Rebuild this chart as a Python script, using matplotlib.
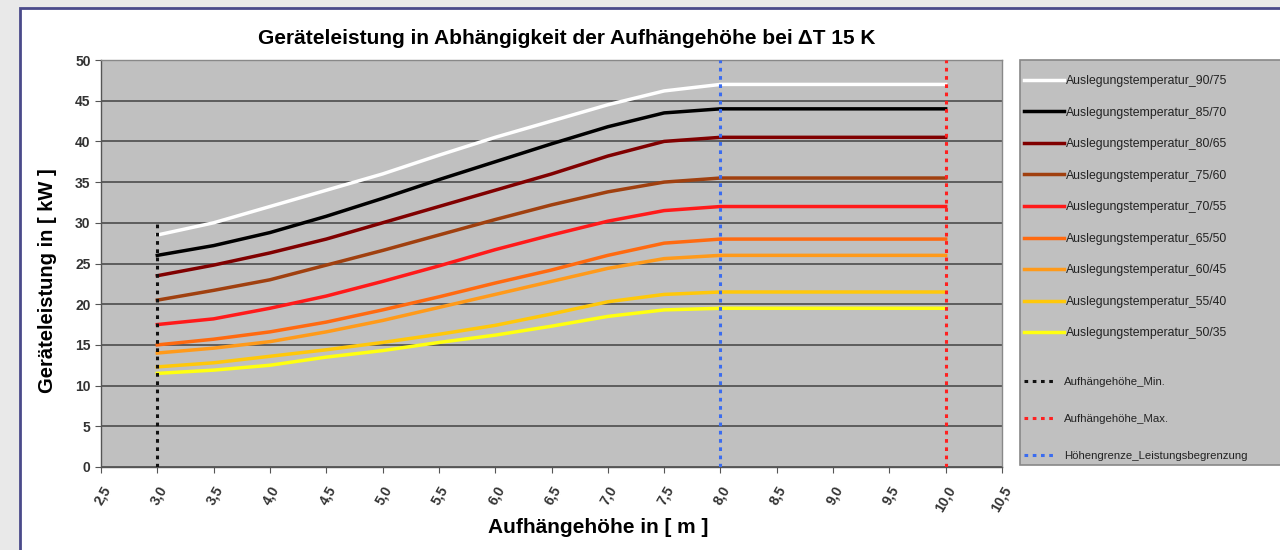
import matplotlib.pyplot as plt
import matplotlib.patches as patches

plt.rcParams['font.family'] = ['Liberation Sans', 'DejaVu Sans']

# Aufhaengehoehe in m
hoehe = [3.0, 3.5, 4.0, 4.5, 5.0, 5.5, 6.0, 6.5, 7.0, 7.5, 8.0, 10.0]

# Geraeteleistung in kW je Auslegungstemperatur
t_90_75 = [28.5, 30.0, 32.0, 34.0, 36.0, 38.3, 40.5, 42.5, 44.5, 46.2, 47.0, 47.0]
t_85_70 = [26.0, 27.2, 28.8, 30.8, 33.0, 35.3, 37.5, 39.7, 41.8, 43.5, 44.0, 44.0]
t_80_65 = [23.5, 24.8, 26.3, 28.0, 30.0, 32.0, 34.0, 36.0, 38.2, 40.0, 40.5, 40.5]
t_75_60 = [20.5, 21.7, 23.0, 24.8, 26.6, 28.5, 30.4, 32.2, 33.8, 35.0, 35.5, 35.5]
t_70_55 = [17.5, 18.2, 19.5, 21.0, 22.8, 24.7, 26.7, 28.5, 30.2, 31.5, 32.0, 32.0]
t_65_50 = [15.0, 15.7, 16.6, 17.8, 19.3, 20.9, 22.6, 24.2, 26.0, 27.5, 28.0, 28.0]
t_60_45 = [14.0, 14.6, 15.4, 16.6, 18.0, 19.6, 21.2, 22.8, 24.4, 25.6, 26.0, 26.0]
t_55_40 = [12.3, 12.8, 13.6, 14.4, 15.3, 16.3, 17.4, 18.8, 20.3, 21.2, 21.5, 21.5]
t_50_35 = [11.5, 11.9, 12.5, 13.5, 14.3, 15.3, 16.2, 17.3, 18.5, 19.3, 19.5, 19.5]

serien = [t_90_75, t_85_70, t_80_65, t_75_60, t_70_55, t_65_50, t_60_45, t_55_40, t_50_35]
namen = ["Auslegungstemperatur_90/75", "Auslegungstemperatur_85/70", "Auslegungstemperatur_80/65",
         "Auslegungstemperatur_75/60", "Auslegungstemperatur_70/55", "Auslegungstemperatur_65/50",
         "Auslegungstemperatur_60/45", "Auslegungstemperatur_55/40", "Auslegungstemperatur_50/35"]
farben = ["#ffffff", "#000000", "#800000", "#a0400f", "#ff1a1a", "#ff6a10", "#ff9a1a", "#ffc80a", "#ffff10"]

# senkrechte Grenzlinien: x, y von, y bis
min_x, min_y = [3.0, 3.0], [0, 30]
max_x, max_y = [10.0, 10.0], [0, 50]
grenze_x, grenze_y = [8.0, 8.0], [0, 50]

x_ticks = [2.5, 3.0, 3.5, 4.0, 4.5, 5.0, 5.5, 6.0, 6.5, 7.0, 7.5, 8.0, 8.5, 9.0, 9.5, 10.0, 10.5]
y_ticks = [0, 5, 10, 15, 20, 25, 30, 35, 40, 45, 50]

fig = plt.figure(figsize=(12.8, 5.5), dpi=100)
fig.patch.set_facecolor("#e9e9e9")
# weisser Rahmen fuer das Diagramm
fig.add_artist(patches.Rectangle((20 / 1280, -0.01), 1.0, 1 - 8 / 550 + 0.01,
                                 transform=fig.transFigure, facecolor="white",
                                 edgecolor="#4a4a8a", linewidth=2, zorder=-10))
# grauer Kasten fuer die Legende
fig.add_artist(patches.Rectangle((1020 / 1280, 1 - 465 / 550), 1.0, 405 / 550,
                                 transform=fig.transFigure, facecolor="#c0c0c0",
                                 edgecolor="#888888", linewidth=1.2, zorder=-5))

ax = fig.add_axes([101 / 1280, 1 - 467 / 550, 901 / 1280, 407 / 550])
ax.set_facecolor("#c0c0c0")

handles = []
for y, name, farbe in zip(serien, namen, farben):
    h, = ax.plot(hoehe, y, color=farbe, linewidth=2.5, label=name, zorder=3)
    handles.append(h)

h_min, = ax.plot(min_x, min_y, color="#111111", linestyle=(0, (1.2, 1.5)), linewidth=2.2, zorder=4,
                 label="Aufhängehöhe_Min.")
h_max, = ax.plot(max_x, max_y, color="#ff2020", linestyle=(0, (1.2, 1.5)), linewidth=2.2, zorder=4,
                 label="Aufhängehöhe_Max.")
h_gr, = ax.plot(grenze_x, grenze_y, color="#3a6cf0", linestyle=(0, (1.2, 1.5)), linewidth=2.2, zorder=4,
                label="Höhengrenze_Leistungsbegrenzung")

ax.set_xlim(2.5, 10.5)
ax.set_ylim(0, 50)
ax.set_xticks(x_ticks)
ax.set_xticklabels([f"{v:.1f}".replace(".", ",") for v in x_ticks], rotation=60,
                   ha="right", va="top", rotation_mode="anchor", fontsize=10,
                   color="#333333", fontweight="bold")
ax.set_yticks(y_ticks)
ax.set_yticklabels([str(v) for v in y_ticks], fontsize=10, color="#333333", fontweight="bold")
ax.tick_params(axis="both", direction="out", length=4, color="#555555")
ax.tick_params(axis="x", pad=8)
ax.grid(axis="y", color="#555555", linewidth=1.3, zorder=1)
ax.set_axisbelow(True)
for s in ax.spines.values():
    s.set_color("#888888")
    s.set_linewidth(1)
ax.spines["left"].set_color("#555555")
ax.spines["bottom"].set_color("#555555")

ax.set_xlabel("Aufhängehöhe in [ m ]", fontsize=15, fontweight="bold")
ax.xaxis.set_label_coords((598 - 101) / 901, -(518 - 467) / 407)
ax.set_ylabel("Geräteleistung in [ kW ]", fontsize=14.5, fontweight="bold")
ax.yaxis.set_label_coords((57 - 101) / 901, (467 - 281) / 407)
fig.text(567 / 1280, 1 - 38 / 550, "Geräteleistung in Abhängigkeit der Aufhängehöhe bei ΔT 15 K",
         ha="center", va="center", fontsize=15, fontweight="bold")

leg1 = fig.legend(handles, namen, loc="upper left", bbox_to_anchor=(1024 / 1280, 1 - 75 / 550),
                  frameon=False, fontsize=8.8, labelspacing=1.6, handlelength=3.3,
                  handletextpad=0.1, borderpad=0, borderaxespad=0)
leg2 = fig.legend([h_min, h_max, h_gr], [h_min.get_label(), h_max.get_label(), h_gr.get_label()],
                  loc="upper left", bbox_to_anchor=(1024 / 1280, 1 - 377 / 550),
                  frameon=False, fontsize=8.2, labelspacing=2.35, handlelength=2.6,
                  handletextpad=0.9, borderpad=0, borderaxespad=0)
for leg in [leg1, leg2]:
    for t in leg.get_texts():
        t.set_color("#222222")

fig.savefig("out.png", dpi=100)
